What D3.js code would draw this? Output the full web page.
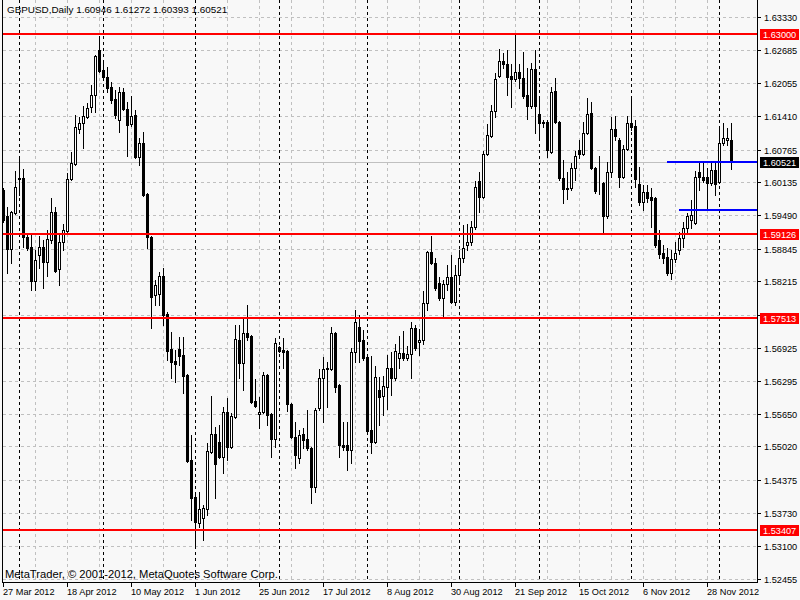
<!DOCTYPE html>
<html><head><meta charset="utf-8">
<script src="https://cdn.jsdelivr.net/npm/d3@7"></script>
<style>
html,body{margin:0;padding:0;background:#f8f8f8;}
svg{display:block;}
text{font-family:"Liberation Sans",Arial,sans-serif;font-size:9.2px;}
</style>
</head><body>
<svg id="chart" width="800" height="600"></svg>
<script>
const symbol = "GBPUSD,Daily";
const firstDate = "2012-03-27";
const openP = [1.5998,1.5948,1.5884,1.5954,1.6022,1.6022,1.5907,1.5888,1.5822,1.5872,1.5888,1.5859,1.5902,1.5956,1.5846,1.5898,1.5919,1.6020,1.6049,1.6116,
1.6128,1.6139,1.6159,1.6182,1.6269,1.6231,1.6217,1.6198,1.6174,1.6134,1.6188,1.6155,1.6126,1.6143,1.6062,1.6089,1.5991,1.5907,1.5795,1.5797,
1.5832,1.5759,1.5691,1.5667,1.5691,1.5679,1.5640,1.5476,1.5404,1.5354,1.5364,1.5381,1.5491,1.5526,1.5511,1.5482,1.5569,1.5501,1.5559,1.5708,
1.5663,1.5721,1.5716,1.5590,1.5565,1.5569,1.5640,1.5565,1.5517,1.5694,1.5689,1.5687,1.5584,1.5520,1.5480,1.5526,1.5517,1.5499,1.5424,1.5577,
1.5635,1.5652,1.5652,1.5721,1.5621,1.5505,1.5505,1.5495,1.5685,1.5733,1.5708,1.5675,1.5534,1.5511,1.5611,1.5600,1.5617,1.5654,1.5635,1.5673,
1.5683,1.5673,1.5681,1.5731,1.5704,1.5708,1.5780,1.5878,1.5857,1.5818,1.5789,1.5816,1.5830,1.5782,1.5834,1.5867,1.5892,1.5898,1.5927,1.6016,
1.5985,1.6068,1.6103,1.6151,1.6219,1.6248,1.6242,1.6219,1.6213,1.6227,1.6215,1.6182,1.6161,1.6232,1.6145,1.6130,1.6130,1.6072,1.6190,1.6130,
1.6022,1.6002,1.6002,1.6041,1.6076,1.6068,1.6108,1.6147,1.6041,1.6012,1.6012,1.5948,1.6033,1.6116,1.6095,1.6024,1.6078,1.6128,1.6122,1.6010,
1.5975,1.5994,1.5985,1.5983,1.5902,1.5876,1.5869,1.5838,1.5865,1.5882,1.5905,1.5925,1.5940,1.5934,1.6033,1.6024,1.6024,1.6012,1.6037,1.6014,
1.6089,1.6095,1.60946];
const highP = [1.6002,1.5965,1.5958,1.6035,1.6060,1.6039,1.5913,1.5911,1.5882,1.5909,1.5902,1.5921,1.5983,1.5965,1.5915,1.5932,1.6031,1.6072,1.6143,1.6139,
1.6161,1.6166,1.6201,1.6260,1.6297,1.6246,1.6236,1.6207,1.6192,1.6198,1.6196,1.6168,1.6180,1.6153,1.6099,1.6110,1.5993,1.5909,1.5824,1.5840,
1.5847,1.5762,1.5723,1.5689,1.5714,1.5714,1.5642,1.5524,1.5412,1.5414,1.5389,1.5509,1.5600,1.5540,1.5544,1.5579,1.5596,1.5567,1.5737,1.5737,
1.5753,1.5776,1.5718,1.5633,1.5598,1.5646,1.5642,1.5567,1.5712,1.5696,1.5712,1.5689,1.5586,1.5549,1.5534,1.5538,1.5573,1.5501,1.5577,1.5652,
1.5675,1.5665,1.5733,1.5723,1.5623,1.5549,1.5549,1.5693,1.5766,1.5757,1.5727,1.5677,1.5677,1.5658,1.5637,1.5639,1.5679,1.5685,1.5700,1.5716,
1.5725,1.5696,1.5743,1.5737,1.5729,1.5803,1.5880,1.5909,1.5867,1.5830,1.5824,1.5853,1.5872,1.5853,1.5882,1.5931,1.5932,1.5938,1.6016,1.6033,
1.6074,1.6126,1.6163,1.6225,1.6271,1.6263,1.6269,1.6242,1.6300,1.6242,1.6265,1.6234,1.6244,1.6269,1.6176,1.6134,1.6134,1.6198,1.6215,1.6132,
1.6056,1.6033,1.6051,1.6074,1.6095,1.6130,1.6176,1.6168,1.6043,1.6064,1.6014,1.6053,1.6139,1.6141,1.6099,1.6085,1.6141,1.6176,1.6134,1.6043,
1.6008,1.6008,1.6002,1.5985,1.5921,1.5892,1.5886,1.5882,1.5898,1.5917,1.5936,1.5954,1.5979,1.6035,1.6053,1.6053,1.6041,1.6053,1.6053,1.6116,
1.6128,1.6118,1.61272];
const lowP = [1.5936,1.5838,1.5857,1.5952,1.5989,1.5888,1.5882,1.5805,1.5805,1.5847,1.5809,1.5832,1.5896,1.5840,1.5815,1.5882,1.5917,1.6018,1.6047,1.6108,
1.6080,1.6137,1.6149,1.6149,1.6227,1.6211,1.6188,1.6167,1.6137,1.6110,1.6153,1.6064,1.6122,1.6060,1.6047,1.5987,1.5886,1.5731,1.5776,1.5776,
1.5737,1.5669,1.5635,1.5627,1.5660,1.5606,1.5472,1.5360,1.5311,1.5346,1.5321,1.5369,1.5489,1.5402,1.5480,1.5451,1.5476,1.5499,1.5557,1.5635,
1.5611,1.5708,1.5586,1.5579,1.5538,1.5567,1.5544,1.5482,1.5501,1.5685,1.5654,1.5571,1.5518,1.5461,1.5470,1.5499,1.5495,1.5393,1.5414,1.5573,
1.5549,1.5579,1.5650,1.5607,1.5482,1.5495,1.5457,1.5470,1.5665,1.5665,1.5669,1.5530,1.5489,1.5509,1.5544,1.5563,1.5575,1.5602,1.5631,1.5654,
1.5669,1.5669,1.5635,1.5689,1.5679,1.5700,1.5766,1.5855,1.5805,1.5785,1.5753,1.5805,1.5780,1.5776,1.5820,1.5859,1.5882,1.5892,1.5923,1.5956,
1.5983,1.6066,1.6101,1.6139,1.6217,1.6234,1.6182,1.6159,1.6209,1.6196,1.6176,1.6136,1.6157,1.6108,1.6101,1.6120,1.6062,1.6070,1.6128,1.6018,
1.5973,1.5981,1.5998,1.6018,1.6060,1.6066,1.6106,1.6039,1.5993,1.5991,1.5915,1.5944,1.6023,1.6095,1.6004,1.6022,1.6076,1.6114,1.6004,1.5969,
1.5960,1.5975,1.5927,1.5888,1.5867,1.5857,1.5834,1.5826,1.5859,1.5874,1.5888,1.5917,1.5925,1.5932,1.5998,1.6014,1.5962,1.6008,1.5989,1.6012,
1.6085,1.6085,1.60393];
const closeP = [1.5940,1.5885,1.5956,1.6004,1.6020,1.5907,1.5886,1.5822,1.5863,1.5888,1.5859,1.5904,1.5956,1.5842,1.5898,1.5921,1.6020,1.6051,1.6120,1.6128,
1.6141,1.6157,1.6182,1.6258,1.6229,1.6217,1.6196,1.6172,1.6143,1.6188,1.6155,1.6124,1.6141,1.6062,1.6089,1.5989,1.5907,1.5791,1.5815,1.5832,
1.5757,1.5687,1.5665,1.5662,1.5677,1.5639,1.5474,1.5402,1.5356,1.5381,1.5383,1.5493,1.5526,1.5468,1.5482,1.5569,1.5501,1.5561,1.5710,1.5663,
1.5721,1.5714,1.5588,1.5580,1.5569,1.5640,1.5563,1.5517,1.5702,1.5687,1.5685,1.5584,1.5520,1.5486,1.5524,1.5515,1.5499,1.5424,1.5573,1.5635,
1.5652,1.5654,1.5721,1.5617,1.5505,1.5501,1.5495,1.5685,1.5743,1.5706,1.5673,1.5532,1.5511,1.5637,1.5598,1.5619,1.5654,1.5635,1.5687,1.5683,
1.5673,1.5681,1.5731,1.5693,1.5708,1.5780,1.5878,1.5857,1.5809,1.5789,1.5816,1.5830,1.5782,1.5834,1.5867,1.5886,1.5898,1.5927,1.6004,1.5985,
1.6068,1.6105,1.6151,1.6213,1.6248,1.6242,1.6217,1.6213,1.6227,1.6215,1.6180,1.6161,1.6232,1.6161,1.6128,1.6128,1.6076,1.6188,1.6130,1.6022,
1.6000,1.6000,1.6041,1.6064,1.6068,1.6108,1.6145,1.6041,1.5996,1.6011,1.5948,1.6033,1.6116,1.6103,1.6024,1.6078,1.6128,1.6120,1.6020,1.5975,
1.5994,1.5983,1.5979,1.5892,1.5874,1.5867,1.5838,1.5865,1.5876,1.5905,1.5925,1.5948,1.5950,1.6024,1.6024,1.6018,1.6012,1.6037,1.6010,1.6089,
1.6099,1.6099,1.60521];
const priceTicks = [1.63330,1.62685,1.62055,1.61410,1.60765,1.60135,1.59490,1.58845,1.58215,1.57571,1.56925,1.56295,1.55650,1.55020,1.54375,1.53730,1.53100,1.52455];
const redLevels = [1.63000,1.59126,1.57513,1.53407];
const blueLevels = [1.6053,1.5960];
const blueStartBar = [166,169];
const bidPrice = 1.60521;
const copyright = "MetaTrader, \u00a9 2001-2012, MetaQuotes Software Corp.";

// dates: consecutive trading weekdays
const dates = [];
{ let d = new Date(firstDate + "T00:00:00");
  while (dates.length < closeP.length) {
    const wd = d.getDay();
    if (wd !== 0 && wd !== 6) dates.push(new Date(d));
    d.setDate(d.getDate() + 1);
  } }
const fmt = d3.timeFormat("%-d %b %Y");

const svg = d3.select("#chart");
const L = 2, R = 757, T = 0, B = 582;
const x = d3.scaleLinear().domain([0, 182]).range([3, 731]);
const y = d3.scaleLinear().domain([priceTicks[priceTicks.length-1], priceTicks[0]]).range([579, 17]);
const col = i => Math.round(x(i));
const row = p => Math.round(y(p));

svg.append("rect").attr("width",800).attr("height",600).attr("fill","#f8f8f8");

// grid
const g = svg.append("g").attr("shape-rendering","crispEdges");
priceTicks.forEach(p => {
  g.append("line").attr("x1",L+1).attr("x2",R).attr("y1",row(p)+0.5).attr("y2",row(p)+0.5)
    .attr("stroke","#c0c0c0").attr("stroke-dasharray","3,3");
});
for (let i = 8; i < closeP.length; i += 8) {
  g.append("line").attr("x1",col(i)+0.5).attr("x2",col(i)+0.5).attr("y1",T).attr("y2",B)
    .attr("stroke","#c0c0c0").attr("stroke-dasharray","3,3");
}
// period separators (month starts)
dates.forEach((d,i) => {
  if (i > 0 && d.getMonth() !== dates[i-1].getMonth()) {
    g.append("line").attr("x1",col(i)+0.5).attr("x2",col(i)+0.5).attr("y1",T).attr("y2",B)
      .attr("stroke","#000").attr("stroke-dasharray","3,3");
  }
});
// bid line
g.append("line").attr("x1",L+1).attr("x2",R).attr("y1",row(bidPrice)+0.5).attr("y2",row(bidPrice)+0.5)
  .attr("stroke","#c0c0c0");

// candles
const cg = svg.append("g").attr("shape-rendering","crispEdges");
closeP.forEach((c,i) => {
  const o = openP[i], h = highP[i], l = lowP[i];
  const cx = col(i);
  cg.append("line").attr("x1",cx+0.5).attr("x2",cx+0.5).attr("y1",row(h)).attr("y2",row(l)+1)
    .attr("stroke","#000");
  const t = row(Math.max(o,c)), b = row(Math.min(o,c));
  cg.append("rect").attr("x",cx-0.5).attr("y",t+0.5).attr("width",2).attr("height",Math.max(b-t,0))
    .attr("fill", c > o ? "#ffffff" : "#000000").attr("stroke","#000");
});

// horizontal levels
redLevels.forEach(p => {
  svg.append("line").attr("x1",L+1).attr("x2",R).attr("y1",y(p)).attr("y2",y(p))
    .attr("stroke","#ff0000").attr("stroke-width",2).attr("shape-rendering","crispEdges");
});
blueLevels.forEach((p,k) => {
  svg.append("line").attr("x1",col(blueStartBar[k])).attr("x2",R).attr("y1",y(p)).attr("y2",y(p))
    .attr("stroke","#0000ff").attr("stroke-width",2).attr("shape-rendering","crispEdges");
});

// axes frame
const ax = svg.append("g").attr("shape-rendering","crispEdges").attr("stroke","#000");
ax.append("line").attr("x1",L+0.5).attr("x2",L+0.5).attr("y1",0).attr("y2",B+1);
ax.append("line").attr("x1",R+0.5).attr("x2",R+0.5).attr("y1",0).attr("y2",B+1);
ax.append("line").attr("x1",L).attr("x2",R+1).attr("y1",B+0.5).attr("y2",B+0.5);

// price axis
priceTicks.forEach(p => {
  ax.append("line").attr("x1",R+1).attr("x2",R+4).attr("y1",row(p)+0.5).attr("y2",row(p)+0.5);
  svg.append("text").attr("x",764).attr("y",row(p)+3.5).attr("fill","#000").text(p.toFixed(5));
});
// level labels
function tag(p, color){
  const yy = row(p);
  svg.append("rect").attr("x",760).attr("y",yy-5).attr("width",39).attr("height",11).attr("fill",color);
  svg.append("text").attr("x",763).attr("y",yy+4).attr("fill","#fff").text(p.toFixed(5));
}
redLevels.forEach(p => tag(p, "#ff0000"));
tag(bidPrice, "#000000");

// time axis
dates.forEach((d,i) => {
  if (i % 16 === 0) {
    const cx = col(i);
    ax.append("line").attr("x1",cx+0.5).attr("x2",cx+0.5).attr("y1",B+1).attr("y2",B+5);
    svg.append("text").attr("x",cx).attr("y",595).attr("fill","#000").text(fmt(d));
  }
});

// header & copyright
const n = closeP.length - 1;
svg.append("text").attr("x",7).attr("y",13).attr("fill","#000").style("font-size","9.9px")
  .text(symbol + "  " + [openP[n],highP[n],lowP[n],closeP[n]].map(v=>v.toFixed(5)).join(" "));
svg.append("text").attr("x",5).attr("y",578).attr("fill","#000").style("font-size","11.2px").text(copyright);
</script>
</body></html>
